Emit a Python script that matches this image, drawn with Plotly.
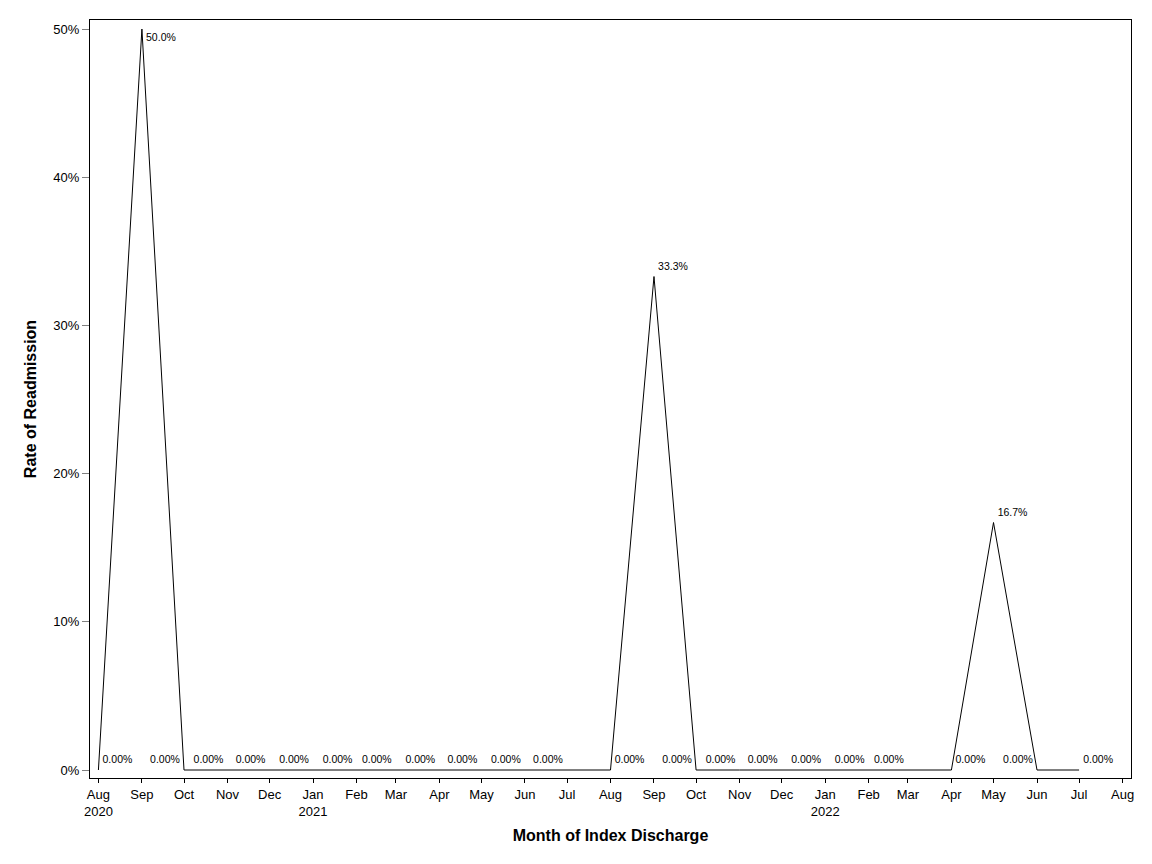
import plotly.graph_objects as go

# monthly index discharge dates (first of month) and readmission rate in %
months = [
    "2020-08-01", "2020-09-01", "2020-10-01", "2020-11-01", "2020-12-01",
    "2021-01-01", "2021-02-01", "2021-03-01", "2021-04-01", "2021-05-01",
    "2021-06-01", "2021-07-01", "2021-08-01", "2021-09-01", "2021-10-01",
    "2021-11-01", "2021-12-01", "2022-01-01", "2022-02-01", "2022-03-01",
    "2022-04-01", "2022-05-01", "2022-06-01", "2022-07-01",
]
rates = [
    0.0, 50.0, 0.0, 0.0, 0.0,
    0.0, 0.0, 0.0, 0.0, 0.0,
    0.0, 0.0, 0.0, 33.3, 0.0,
    0.0, 0.0, 0.0, 0.0, 0.0,
    0.0, 16.7, 0.0, 0.0,
]

tick_dates = [
    "2020-08-01", "2020-09-01", "2020-10-01", "2020-11-01", "2020-12-01",
    "2021-01-01", "2021-02-01", "2021-03-01", "2021-04-01", "2021-05-01",
    "2021-06-01", "2021-07-01", "2021-08-01", "2021-09-01", "2021-10-01",
    "2021-11-01", "2021-12-01", "2022-01-01", "2022-02-01", "2022-03-01",
    "2022-04-01", "2022-05-01", "2022-06-01", "2022-07-01", "2022-08-01",
]
tick_labels = [
    "Aug<br>2020", "Sep", "Oct", "Nov", "Dec",
    "Jan<br>2021", "Feb", "Mar", "Apr", "May",
    "Jun", "Jul", "Aug", "Sep", "Oct",
    "Nov", "Dec", "Jan<br>2022", "Feb", "Mar",
    "Apr", "May", "Jun", "Jul", "Aug",
]
y_ticks = [0, 10, 20, 30, 40, 50]

# where each point label sits (SAS-style collision avoidance)
label_pos = (
    ["top right", "bottom right"] + ["top left"] * 10 +
    ["top right", "top right"] + ["top left"] * 6 +
    ["top right", "top right", "top left", "top right"]
)

labels = [f"{r:.1f}%" if r else "0.00%" for r in rates]

FONT = "Liberation Sans, Arial, sans-serif"

fig = go.Figure()
fig.add_trace(go.Scatter(
    x=months,
    y=rates,
    mode="lines+markers+text",
    text=labels,
    textposition=label_pos,
    textfont=dict(size=10.5, color="black", family=FONT),
    line=dict(color="black", width=1),
    marker=dict(size=5, color="rgba(0,0,0,0)"),
    showlegend=False,
    cliponaxis=False,
    hoverinfo="x+y",
))

fig.update_xaxes(
    type="date",
    range=["2020-07-26", "2022-08-07"],
    tickvals=tick_dates,
    ticktext=tick_labels,
    ticks="outside",
    ticklen=4,
    tickcolor="black",
    tickfont=dict(size=13, color="black", family=FONT),
    showline=True,
    linecolor="black",
    linewidth=1,
    mirror=True,
    showgrid=False,
    zeroline=False,
    title=dict(text="<b>Month of Index Discharge</b>",
               font=dict(size=16, color="black", family=FONT), standoff=12),
)
fig.update_yaxes(
    range=[-0.54, 50.61],
    tickvals=y_ticks,
    ticktext=[f"{v}%" for v in y_ticks],
    ticks="outside",
    ticklen=7,
    tickcolor="#808080",
    tickfont=dict(size=13, color="black", family=FONT),
    showline=True,
    linecolor="black",
    linewidth=1,
    mirror=True,
    showgrid=False,
    zeroline=False,
    title=dict(text="<b>Rate of Readmission</b>",
               font=dict(size=16, color="black", family=FONT), standoff=12),
)

# page body adds an 8px offset, so the figure is sized to fit inside the window
fig.update_layout(
    width=1144,
    height=856,
    margin=dict(l=82, r=21, t=12, b=86),
    plot_bgcolor="white",
    paper_bgcolor="white",
    font=dict(family=FONT, color="black"),
)

fig.write_html("out.html")
